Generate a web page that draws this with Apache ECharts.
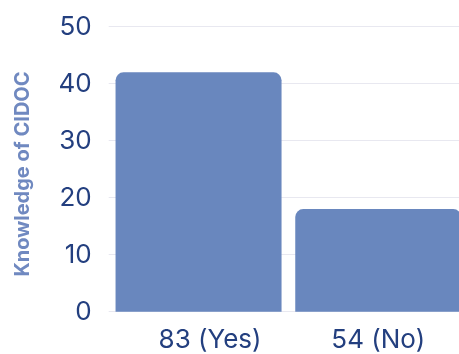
<!DOCTYPE html>
<html>
<head>
<meta charset="utf-8">
<style>html,body{margin:0;padding:0;background:#fff;overflow:hidden}#c{width:475px;height:354px}</style>
<script src="https://cdn.jsdelivr.net/npm/echarts@6/dist/echarts.min.js"></script>
</head>
<body>
<div id="c"></div>
<script>
const categories = ['83 (Yes)', '54 (No)'];
const values = [42, 18];
const yTicks = [0, 10, 20, 30, 40, 50];
const yTitle = 'Knowledge of CIDOC';

const chart = echarts.init(document.getElementById('c'));
chart.setOption({
  animation: false,
  grid: { left: 108.7, top: 26.7, width: 359.4, bottom: 42.3, containLabel: false },
  xAxis: {
    type: 'category',
    data: categories.map((c, i) => i === 0 ? { value: c, textStyle: { padding: [0, 0, 0, 23] } } : c),
    axisLine: { show: false },
    axisTick: { show: false },
    axisLabel: { color: '#233f7f', fontFamily: 'Inter', fontSize: 26, margin: 15 }
  },
  yAxis: {
    type: 'value',
    min: yTicks[0],
    max: yTicks[yTicks.length - 1],
    interval: 10,
    axisLine: { show: false },
    axisTick: { show: false },
    splitLine: { lineStyle: { color: '#e8e8f0', width: 1 } },
    axisLabel: { color: '#233f7f', fontFamily: 'Inter', fontSize: 26, margin: 17 }
  },
  graphic: [{
    type: 'text',
    x: 23, y: 174,
    rotation: Math.PI / 2,
    style: {
      text: yTitle,
      fill: '#7089c0',
      font: 'bold 20px Inter',
      align: 'center',
      verticalAlign: 'middle'
    }
  }],
  series: [{
    type: 'bar',
    data: values,
    barWidth: 166,
    itemStyle: { color: '#6987be', borderRadius: [8, 8, 0, 0] }
  }]
});
</script>
</body>
</html>
